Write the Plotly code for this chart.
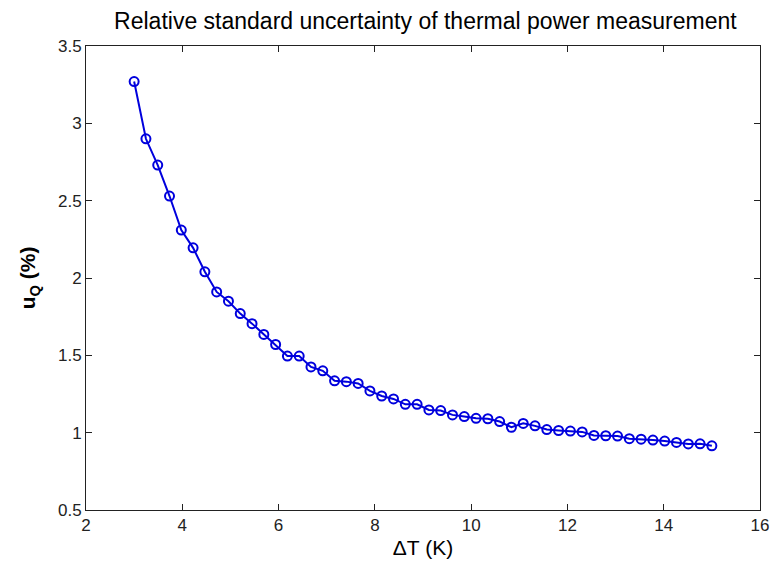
import numpy as np
import plotly.graph_objects as go

# Data
delta_t = np.linspace(3, 15, 50)
u_q = [3.27, 2.90, 2.73, 2.53, 2.31, 2.195, 2.04, 1.91, 1.85, 1.77,
       1.705, 1.635, 1.57, 1.495, 1.495, 1.425, 1.40, 1.335, 1.33, 1.318,
       1.27, 1.237, 1.218, 1.183, 1.183, 1.147, 1.143, 1.115, 1.104, 1.093,
       1.09, 1.072, 1.035, 1.06, 1.044, 1.02, 1.014, 1.01, 1.005, 0.982,
       0.98, 0.978, 0.961, 0.958, 0.952, 0.946, 0.937, 0.927, 0.928, 0.915]

x_ticks = [2, 4, 6, 8, 10, 12, 14, 16]
y_ticks = [0.5, 1, 1.5, 2, 2.5, 3, 3.5]
y_tick_text = ["0.5", "1", "1.5", "2", "2.5", "3", "3.5"]

title_text = "Relative standard uncertainty of thermal power measurement"
x_label = "ΔT (K)"
y_label = "<b>u<sub>Q</sub> (%)</b>"

blue = "#0000dd"

fig = go.Figure()
fig.add_trace(go.Scatter(
    x=delta_t, y=u_q, mode="lines+markers",
    line=dict(color=blue, width=2),
    marker=dict(symbol="circle-open", size=9, color=blue, line=dict(width=2, color=blue)),
    showlegend=False,
))

axis_common = dict(
    showline=True, linecolor="#222222", linewidth=1, mirror="ticks",
    ticks="inside", ticklen=6, tickwidth=1, tickcolor="#222222",
    showgrid=False, zeroline=False,
    tickfont=dict(family="Liberation Sans, Arial", size=17, color="#222222"),
)

fig.update_layout(
    width=773, height=559,
    margin=dict(l=78, r=12, t=38, b=53),
    paper_bgcolor="white", plot_bgcolor="white",
    title=dict(text=title_text, x=0.54, xanchor="center", y=0.976, yanchor="middle",
               font=dict(family="Liberation Sans, Arial", size=23, color="black")),
    xaxis=dict(range=[2, 16], tickvals=x_ticks,
               title=dict(text=x_label, standoff=5,
                          font=dict(family="Liberation Sans, Arial", size=21, color="black")),
               **axis_common),
    yaxis=dict(range=[0.5, 3.5], tickvals=y_ticks, ticktext=y_tick_text,
               title=dict(text=y_label, standoff=16,
                          font=dict(family="Liberation Sans, Arial", size=21, color="black")),
               **axis_common),
)

fig.write_html("out.html")
